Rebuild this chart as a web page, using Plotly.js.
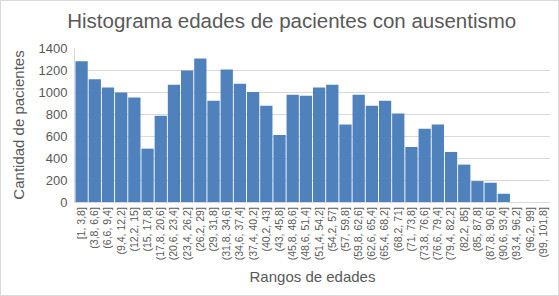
<!DOCTYPE html>
<html>
<head>
<meta charset="utf-8">
<script src="https://cdn.plot.ly/plotly-3.0.1.min.js"></script>
<style>
  html, body { margin: 0; padding: 0; background: #fff; }
  #chart { width: 559px; height: 296px; box-sizing: border-box; border: 1px solid #d9d9d9; }
</style>
</head>
<body>
<div id="chart"></div>
<script>
const binLabels = [
  "[1, 3,8]", "(3,8, 6,6]", "(6,6, 9,4]", "(9,4, 12,2]", "(12,2, 15]", "(15, 17,8]",
  "(17,8, 20,6]", "(20,6, 23,4]", "(23,4, 26,2]", "(26,2, 29]", "(29, 31,8]", "(31,8, 34,6]",
  "(34,6, 37,4]", "(37,4, 40,2]", "(40,2, 43]", "(43, 45,8]", "(45,8, 48,6]", "(48,6, 51,4]",
  "(51,4, 54,2]", "(54,2, 57]", "(57, 59,8]", "(59,8, 62,6]", "(62,6, 65,4]", "(65,4, 68,2]",
  "(68,2, 71]", "(71, 73,8]", "(73,8, 76,6]", "(76,6, 79,4]", "(79,4, 82,2]", "(82,2, 85]",
  "(85, 87,8]", "(87,8, 90,6]", "(90,6, 93,4]", "(93,4, 96,2]", "(96,2, 99]", "(99, 101,8]"
];
const counts = [
  1280, 1115, 1040, 995, 950, 485,
  785, 1065, 1195, 1305, 920, 1205,
  1075, 1000, 875, 610, 975, 965,
  1040, 1065, 705, 975, 875, 920,
  805, 500, 665, 705, 455, 340,
  190, 175, 75, 0, 0, 0
];
const yTicks = [0, 200, 400, 600, 800, 1000, 1200, 1400];

const fontFam = "Liberation Sans, Arial, sans-serif";
const grey = "#595959";

const trace = {
  type: "bar",
  x: binLabels,
  y: counts,
  marker: { color: "#4f81bd", line: { width: 0 } },
  hoverinfo: "x+y"
};

const layout = {
  width: 557, height: 294,
  margin: { l: 74, r: 8, t: 47, b: 93, pad: 0 },
  paper_bgcolor: "#fff", plot_bgcolor: "#fff",
  bargap: 0.07,
  showlegend: false,
  title: {
    text: "Histograma edades de pacientes con ausentismo",
    font: { family: fontFam, size: 20.5, color: grey },
    x: 0.522, xanchor: "center", xref: "container",
    y: 0.932, yanchor: "middle", yref: "container"
  },
  xaxis: {
    type: "category",
    tickangle: -90,
    tickfont: { family: fontFam, size: 10.5, color: grey },
    showline: true, linecolor: "#d9d9d9", linewidth: 1,
    showgrid: false, ticks: "", ticklen: 0,
    automargin: false,
    title: { text: "Rangos de edades", font: { family: fontFam, size: 15, color: grey }, standoff: 12 }
  },
  yaxis: {
    range: [0, 1400],
    tickvals: yTicks,
    tickfont: { family: fontFam, size: 13, color: grey },
    ticklabelstandoff: 4,
    showgrid: true, gridcolor: "#d9d9d9", gridwidth: 1,
    showline: true, linecolor: "#d9d9d9", linewidth: 1,
    zeroline: false, ticks: "", ticklen: 0,
    automargin: false,
    title: { text: "Cantidad de pacientes", font: { family: fontFam, size: 15, color: grey }, standoff: 10 }
  }
};

Plotly.newPlot("chart", [trace], layout, { displayModeBar: false, staticPlot: true });
</script>
</body>
</html>
